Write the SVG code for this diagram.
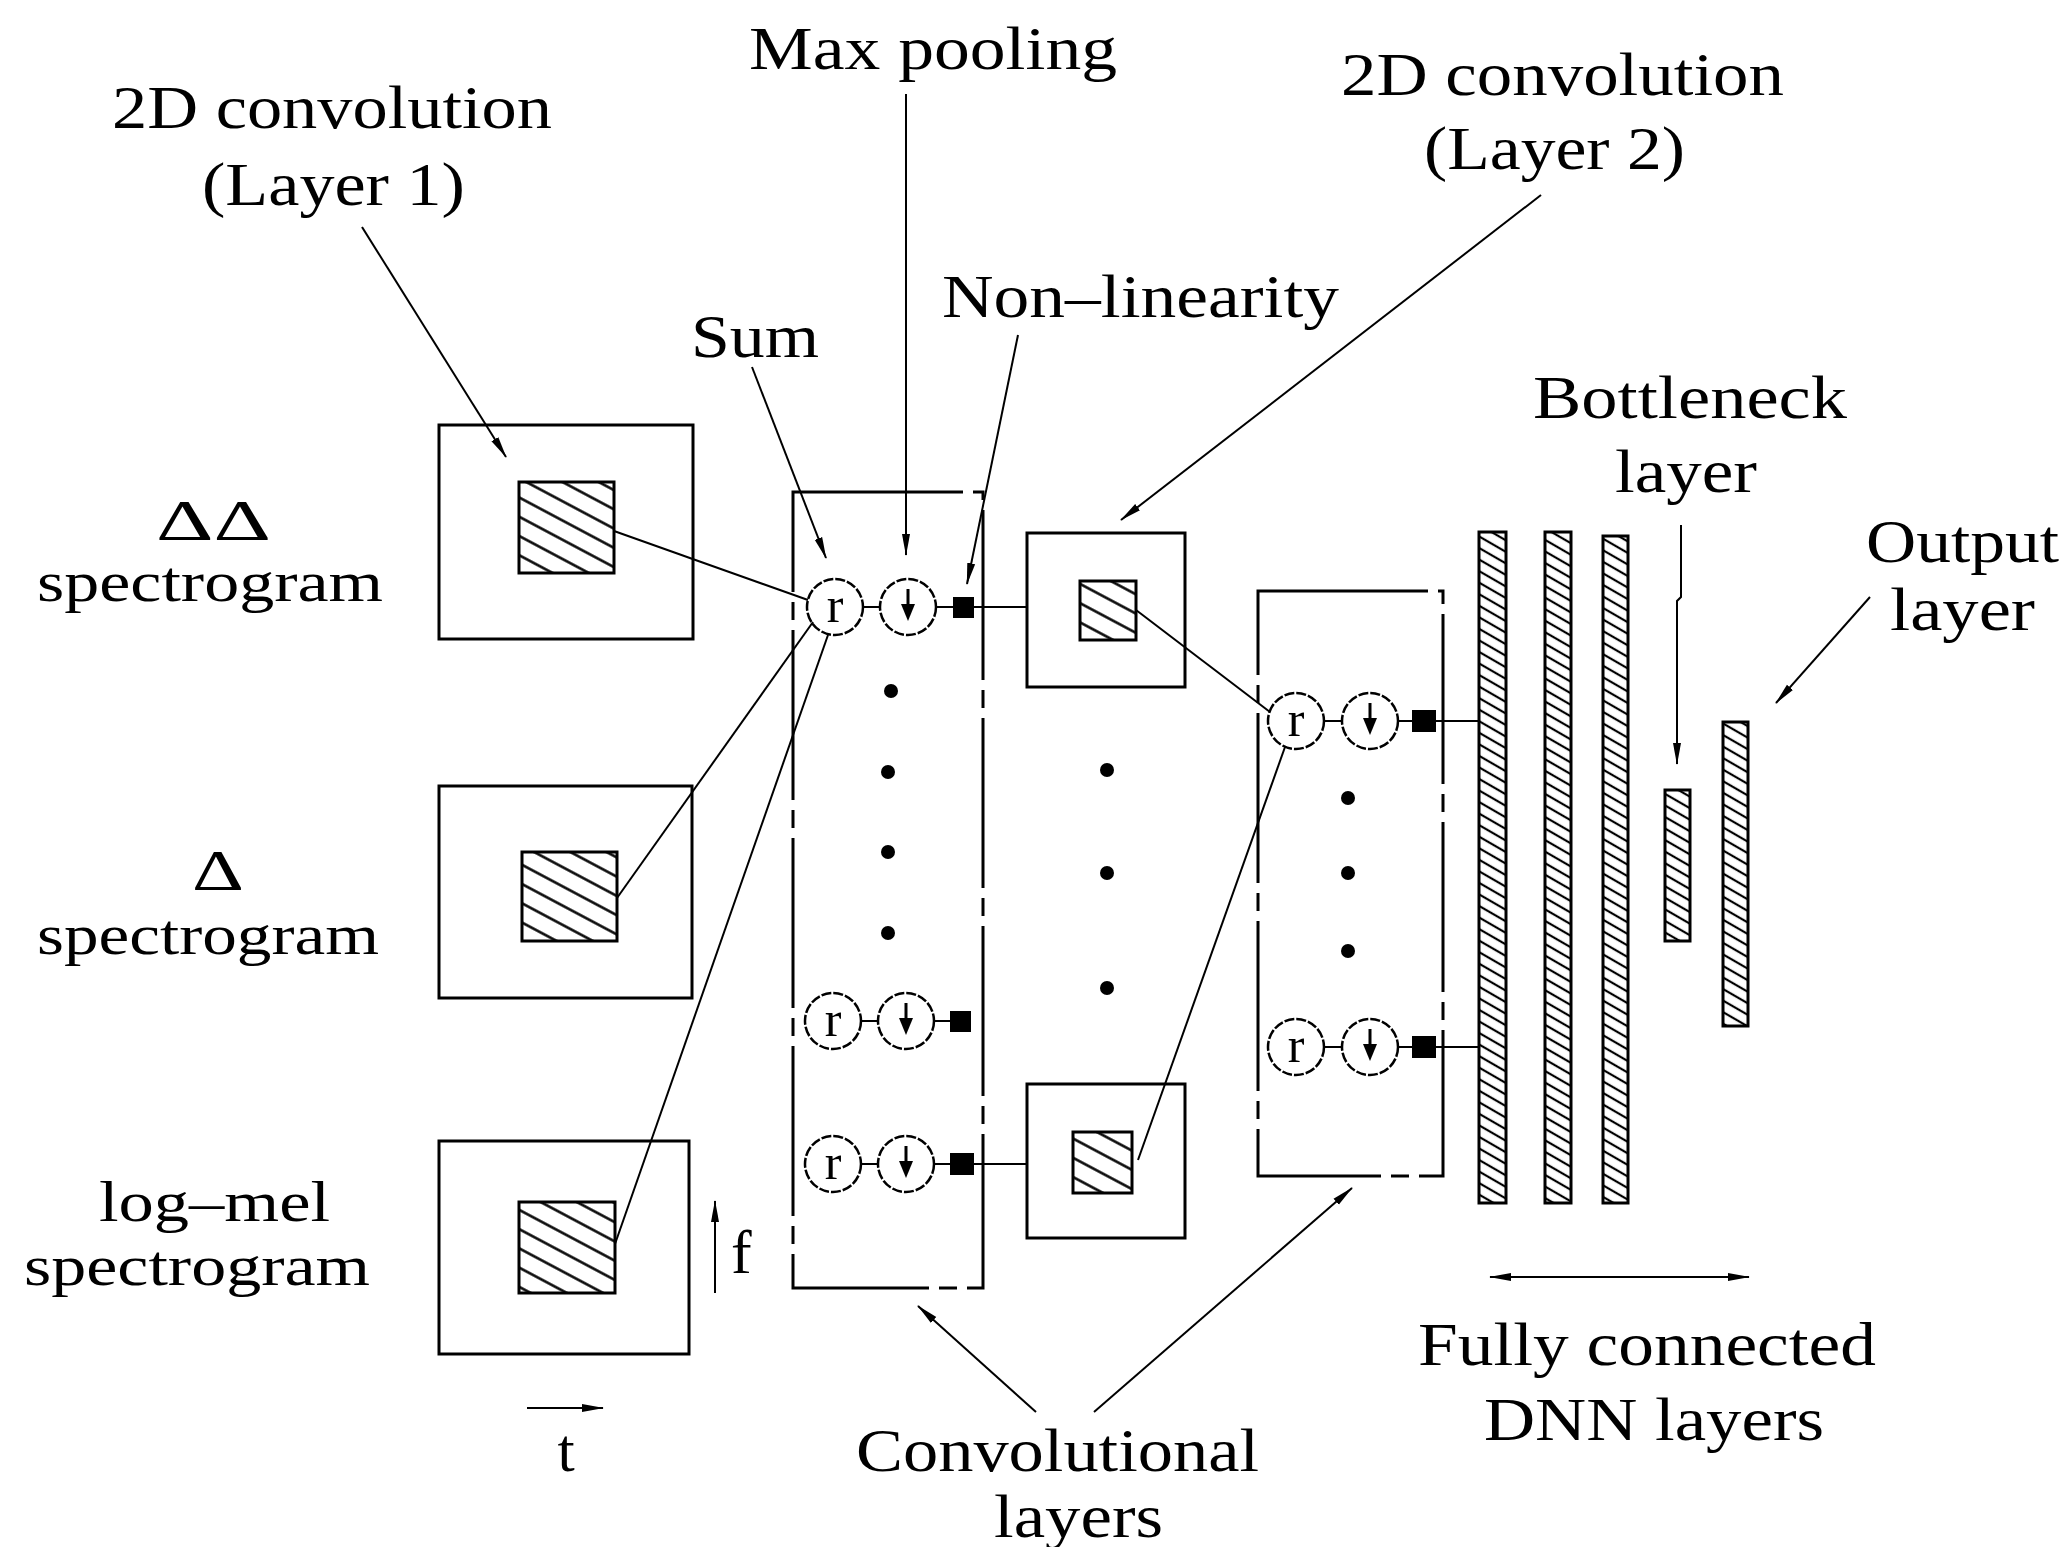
<svg xmlns="http://www.w3.org/2000/svg" width="2072" height="1547" viewBox="0 0 2072 1547">
<style>
text{font-family:"Liberation Serif","DejaVu Serif",serif;fill:#000}
.lbl{font-size:62px}
.lbs{font-size:56px}
.box{fill:#fff;stroke:#000;stroke-width:3}
.dbox{fill:none;stroke:#000;stroke-width:3;stroke-dasharray:170 10 18 10}
.hs{fill:url(#hatchS);stroke:#000;stroke-width:3}
.hb{fill:url(#hatchB);stroke:#000;stroke-width:3}
.circ{fill:#fff;stroke:#000;stroke-width:2.5;stroke-dasharray:10 2}
.ln{fill:none;stroke:#000;stroke-width:2}
.arr{fill:none;stroke:#000;stroke-width:2;marker-end:url(#ah)}
.dot{fill:#000}
.sq{fill:#000}
.rt{font-size:50px;text-anchor:middle}
</style>
<defs>
<pattern id="hatchS" width="17" height="17" patternUnits="userSpaceOnUse" patternTransform="rotate(28)">
<rect width="17" height="17" fill="#fff"/>
<line x1="0" y1="8.5" x2="17" y2="8.5" stroke="#000" stroke-width="2.5"/>
</pattern>
<pattern id="hatchB" width="10" height="10" patternUnits="userSpaceOnUse" patternTransform="rotate(30)">
<rect width="10" height="10" fill="#fff"/>
<line x1="0" y1="5" x2="10" y2="5" stroke="#000" stroke-width="2.2"/>
</pattern>
<marker id="ah" viewBox="0 0 22 10" refX="21" refY="5" markerWidth="22" markerHeight="10" markerUnits="userSpaceOnUse" orient="auto-start-reverse">
<path d="M0,1 L22,5 L0,9 Z" fill="#000"/>
</marker>
<g id="rcirc"><circle cx="0" cy="0" r="28" class="circ"/><text x="0" y="15" class="rt">r</text></g>
<g id="dcirc"><circle cx="0" cy="0" r="28" class="circ"/><line x1="0" y1="-18" x2="0" y2="8" stroke="#000" stroke-width="3"/><path d="M-7,-3 L7,-3 L0,14 Z" fill="#000"/></g>
</defs>
<rect width="2072" height="1547" fill="#fff"/>

<g id="labels">
<text class="lbl" x="112" y="128" textLength="440" lengthAdjust="spacingAndGlyphs">2D convolution</text>
<text class="lbl" x="202" y="205" textLength="263" lengthAdjust="spacingAndGlyphs">(Layer 1)</text>
<text class="lbl" x="749" y="69" textLength="368" lengthAdjust="spacingAndGlyphs">Max pooling</text>
<text class="lbl" x="1341" y="95" textLength="443" lengthAdjust="spacingAndGlyphs">2D convolution</text>
<text class="lbl" x="1424" y="169" textLength="261" lengthAdjust="spacingAndGlyphs">(Layer 2)</text>
<text class="lbl" x="691" y="357" textLength="128" lengthAdjust="spacingAndGlyphs">Sum</text>
<text class="lbl" x="942" y="317" textLength="397" lengthAdjust="spacingAndGlyphs">Non–linearity</text>
<text class="lbl" x="1533" y="418" textLength="314" lengthAdjust="spacingAndGlyphs">Bottleneck</text>
<text class="lbl" x="1615" y="492" textLength="142" lengthAdjust="spacingAndGlyphs">layer</text>
<text class="lbl" x="1866" y="562" textLength="193" lengthAdjust="spacingAndGlyphs">Output</text>
<text class="lbl" x="1890" y="630" textLength="145" lengthAdjust="spacingAndGlyphs">layer</text>
<text class="lbs" x="156" y="540" textLength="115" lengthAdjust="spacingAndGlyphs">ΔΔ</text>
<text class="lbs" x="37" y="601" textLength="346" lengthAdjust="spacingAndGlyphs">spectrogram</text>
<text class="lbs" x="192" y="890" textLength="52" lengthAdjust="spacingAndGlyphs">Δ</text>
<text class="lbs" x="37" y="954" textLength="342" lengthAdjust="spacingAndGlyphs">spectrogram</text>
<text class="lbs" x="99" y="1221" textLength="231" lengthAdjust="spacingAndGlyphs">log–mel</text>
<text class="lbs" x="24" y="1285" textLength="346" lengthAdjust="spacingAndGlyphs">spectrogram</text>
<text class="lbl" x="1418" y="1365" textLength="458" lengthAdjust="spacingAndGlyphs">Fully connected</text>
<text class="lbl" x="1484" y="1440" textLength="340" lengthAdjust="spacingAndGlyphs">DNN layers</text>
<text class="lbl" x="856" y="1471" textLength="403" lengthAdjust="spacingAndGlyphs">Convolutional</text>
<text class="lbl" x="994" y="1537" textLength="169" lengthAdjust="spacingAndGlyphs">layers</text>
<text class="lbl" x="566" y="1471" text-anchor="middle">t</text>
<text class="lbl" x="731" y="1273">f</text>
</g>

<g id="input-dd">
<rect class="box" x="439" y="425" width="254" height="214"/>
<rect class="hs" x="519" y="482" width="95" height="91"/>
</g>
<g id="input-d">
<rect class="box" x="439" y="786" width="253" height="212"/>
<rect class="hs" x="522" y="852" width="95" height="89"/>
</g>
<g id="input-logmel">
<rect class="box" x="439" y="1141" width="250" height="213"/>
<rect class="hs" x="519" y="1202" width="96" height="91"/>
</g>

<g id="conv1">
<rect class="dbox" x="793" y="492" width="190" height="796"/>
<circle class="dot" cx="891" cy="691" r="7"/>
<circle class="dot" cx="888" cy="772" r="7"/>
<circle class="dot" cx="888" cy="852" r="7"/>
<circle class="dot" cx="888" cy="933" r="7"/>
</g>

<g id="conv1-unit1">
<line class="ln" x1="863" y1="607" x2="880" y2="607"/>
<line class="ln" x1="936" y1="607" x2="953" y2="607"/>
<use href="#rcirc" x="835" y="607"/>
<use href="#dcirc" x="908" y="607"/>
<rect class="sq" x="953" y="597" width="21" height="21"/>
</g>
<g id="conv1-unit2">
<line class="ln" x1="861" y1="1021" x2="878" y2="1021"/>
<line class="ln" x1="934" y1="1021" x2="950" y2="1021"/>
<use href="#rcirc" x="833" y="1021"/>
<use href="#dcirc" x="906" y="1021"/>
<rect class="sq" x="950" y="1011" width="21" height="21"/>
</g>
<g id="conv1-unit3">
<line class="ln" x1="861" y1="1164" x2="878" y2="1164"/>
<line class="ln" x1="934" y1="1164" x2="950" y2="1164"/>
<use href="#rcirc" x="833" y="1164"/>
<use href="#dcirc" x="906" y="1164"/>
<rect class="sq" x="950" y="1153" width="24" height="22"/>
</g>

<g id="l2-input-top">
<rect class="box" x="1027" y="533" width="158" height="154"/>
<rect class="hs" x="1080" y="581" width="56" height="59"/>
</g>
<g id="l2-input-bottom">
<rect class="box" x="1027" y="1084" width="158" height="154"/>
<rect class="hs" x="1073" y="1132" width="59" height="61"/>
</g>
<g id="l2-dots">
<circle class="dot" cx="1107" cy="770" r="7"/>
<circle class="dot" cx="1107" cy="873" r="7"/>
<circle class="dot" cx="1107" cy="988" r="7"/>
</g>

<g id="conv2">
<rect class="dbox" x="1258" y="591" width="185" height="585"/>
<circle class="dot" cx="1348" cy="798" r="7"/>
<circle class="dot" cx="1348" cy="873" r="7"/>
<circle class="dot" cx="1348" cy="951" r="7"/>
</g>
<g id="conv2-unit1">
<line class="ln" x1="1324" y1="721" x2="1342" y2="721"/>
<line class="ln" x1="1398" y1="721" x2="1412" y2="721"/>
<use href="#rcirc" x="1296" y="721"/>
<use href="#dcirc" x="1370" y="721"/>
<rect class="sq" x="1412" y="710" width="24" height="22"/>
</g>
<g id="conv2-unit2">
<line class="ln" x1="1324" y1="1047" x2="1342" y2="1047"/>
<line class="ln" x1="1398" y1="1047" x2="1412" y2="1047"/>
<use href="#rcirc" x="1296" y="1047"/>
<use href="#dcirc" x="1370" y="1047"/>
<rect class="sq" x="1412" y="1036" width="24" height="22"/>
</g>

<g id="fc1"><rect class="hb" x="1479" y="532" width="27" height="671"/></g>
<g id="fc2"><rect class="hb" x="1545" y="532" width="26" height="671"/></g>
<g id="fc3"><rect class="hb" x="1603" y="536" width="25" height="667"/></g>
<g id="bottleneck"><rect class="hb" x="1665" y="790" width="25" height="151"/></g>
<g id="output"><rect class="hb" x="1723" y="722" width="25" height="304"/></g>

<g id="connectors">
<line class="ln" x1="614" y1="531" x2="808" y2="600"/>
<line class="ln" x1="617" y1="898" x2="813" y2="622"/>
<line class="ln" x1="615" y1="1244" x2="828" y2="635"/>
<line class="ln" x1="974" y1="607" x2="1027" y2="607"/>
<line class="ln" x1="974" y1="1164" x2="1027" y2="1164"/>
<line class="ln" x1="1136" y1="610" x2="1270" y2="712"/>
<line class="ln" x1="1138" y1="1160" x2="1285" y2="747"/>
<line class="ln" x1="1436" y1="721" x2="1479" y2="721"/>
<line class="ln" x1="1436" y1="1047" x2="1479" y2="1047"/>
<line class="arr" x1="362" y1="227" x2="506" y2="457"/>
<line class="arr" x1="906" y1="94" x2="906" y2="555"/>
<line class="arr" x1="752" y1="367" x2="826" y2="558"/>
<line class="arr" x1="1018" y1="335" x2="967" y2="584"/>
<line class="arr" x1="1541" y1="195" x2="1121" y2="520"/>
<polyline class="arr" points="1681,525 1681,597 1677,601 1677,764"/>
<line class="arr" x1="1870" y1="597" x2="1776" y2="703"/>
<line class="arr" x1="1036" y1="1412" x2="918" y2="1306"/>
<line class="arr" x1="1094" y1="1412" x2="1352" y2="1188"/>
<line class="arr" x1="715" y1="1293" x2="715" y2="1201"/>
<line class="arr" x1="527" y1="1408" x2="603" y2="1408"/>
<line class="arr" x1="1490" y1="1277" x2="1749" y2="1277" style="marker-start:url(#ah)"/>
</g>
</svg>
